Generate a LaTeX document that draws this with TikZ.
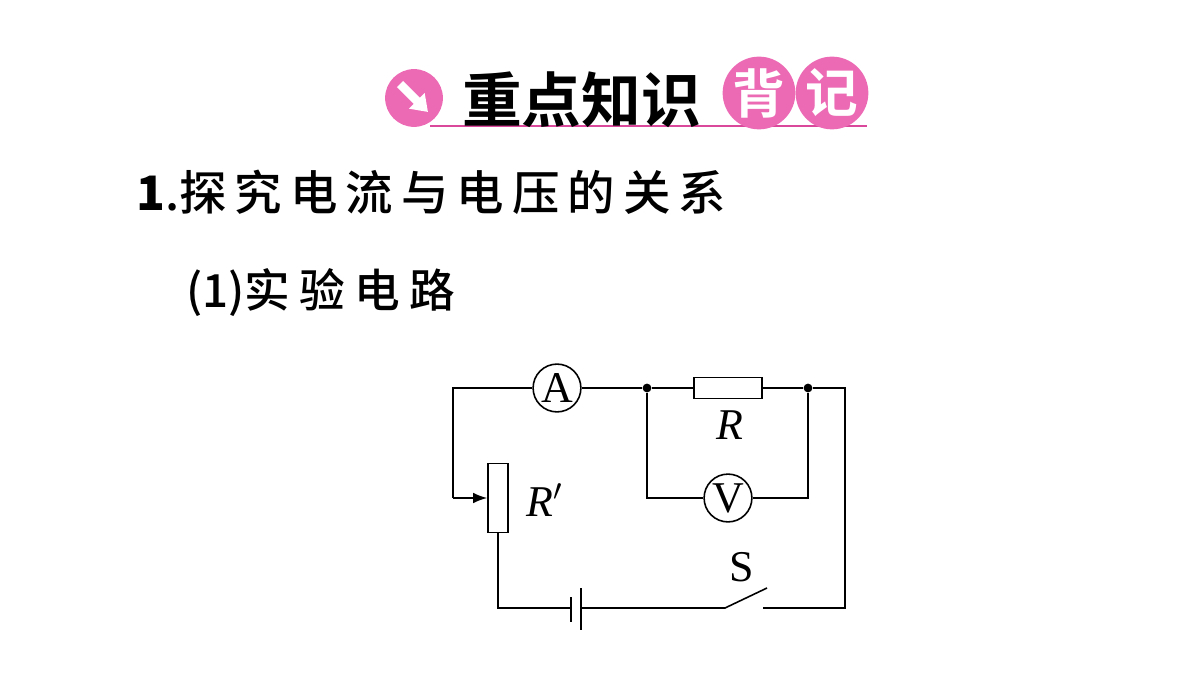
\documentclass[tikz,border=0pt]{standalone}
\usepackage{fontspec}
\setmainfont{Liberation Serif}
\newfontfamily\cjk{Noto Sans CJK SC}
\newfontfamily\cjkb{Noto Sans CJK SC Bold}
\newfontfamily\cjkm{Noto Sans CJK SC Medium}
\usetikzlibrary{arrows.meta}
\begin{document}
\begin{tikzpicture}[x=0.02cm,y=-0.02cm,
  wire/.style={line width=0.9pt},
  meter/.style={circle,draw,line width=0.9pt,minimum size=48*0.567pt,inner sep=0pt,fill=white,font=\fontsize{25}{25}\selectfont},
  dot/.style={circle,fill,inner sep=0pt,minimum size=5pt},
  pinkc/.style={circle,fill=pinkA,inner sep=0pt,minimum size=73*0.567pt,text=white,font=\cjkb\fontsize{30}{30}\selectfont}]
\definecolor{pinkA}{HTML}{EC6AB4}
\definecolor{pinkL}{HTML}{D9489A}
\useasboundingbox (0,0) rectangle (1200,675);
% header
\draw[pinkL,line width=1.5pt] (430,126) -- (867,126);
\node[circle,fill=pinkA,minimum size=58*0.567pt,inner sep=0pt] (ic) at (414,98) {};
\draw[white,line width=5pt,-{Triangle[length=9pt,width=12pt]}] (400,84) -- (428,112);
\node[anchor=west,font=\cjkb\fontsize{34}{34}\selectfont] (ttl) at (456,100) {重点知识};
\node[pinkc] (b1) at (759,93) {背};
\node[pinkc] (b2) at (832,93) {记};
\node[anchor=west,font=\cjkm\fontsize{27}{27}\selectfont] (l1) at (130,192) {\textbf{1}.\addfontfeatures{LetterSpace=17}探究电流与电压的关系};
\node[anchor=west,font=\cjkm\fontsize{26}{26}\selectfont] (l2) at (180,293) {(1)\addfontfeatures{LetterSpace=20}实验电路};
% circuit
\coordinate (tl) at (453,388); \coordinate (tr) at (845,388);
\coordinate (bl) at (498,608); \coordinate (br) at (845,608);
\node[meter] (A) at (557,388) {A};
\node[dot] (j1) at (647,388) {}; \node[dot] (j2) at (808,388) {};
\node[draw,line width=0.9pt,minimum width=68*0.567pt,minimum height=21*0.567pt,inner sep=0pt] (R) at (728,388) {};
\node[font=\itshape\fontsize{25}{25}\selectfont] (Rl) at (730,425) {R};
\node[meter] (V) at (728,498) {V};
\node[draw,line width=0.9pt,minimum width=20*0.567pt,minimum height=69*0.567pt,inner sep=0pt] (Rp) at (498,498) {};
\node[font=\itshape\fontsize{25}{25}\selectfont] (Rpl) at (545,500) {R$'$};
\coordinate (sl) at (453,498);
\draw[wire] (A.east) -- (j1) -- (R.west); \draw[wire] (R.east) -- (j2) -- (tr) -- (br) -- (763,608);
\draw[wire] (A.west) -- (tl) -- (sl);
\draw[wire,-{Latex[length=8pt,width=6pt]}] (sl) -- (Rp.west);
\draw[wire] (j1) |- (V.west); \draw[wire] (V.east) -| (j2);
\coordinate (bat1) at (571,608); \coordinate (bat2) at (581,608);
\draw[wire] (Rp.south) |- (bat1);
\draw[wire] (571,597) -- (571,622);
\draw[wire] (581,588) -- (581,630);
\coordinate (sw) at (725,608);
\draw[wire] (bat2) -- (sw) -- (767,588);
\node[font=\fontsize{25}{25}\selectfont] (S) at (742,567) {S};
\end{tikzpicture}
\end{document}
